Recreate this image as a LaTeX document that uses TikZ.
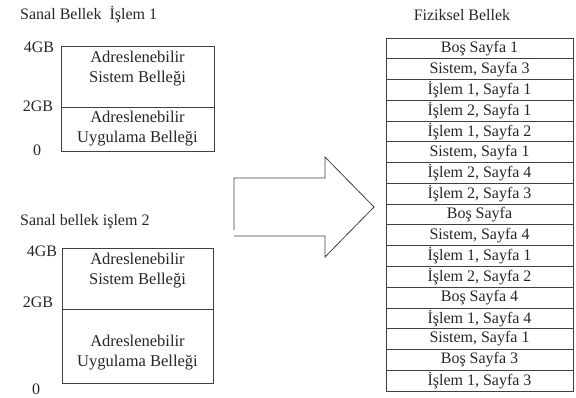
\documentclass[tikz,border=0pt]{standalone}
\usepackage{fontspec}
\setmainfont{Liberation Serif}
\begin{document}
\begin{tikzpicture}[x=1pt,y=-1pt,
  line/.style={draw=black!75, line width=0.8pt},
  lbl/.style={font=\fontsize{16}{19}\selectfont, inner sep=0pt, text=black!85},
  boxtxt/.style={font=\fontsize{16.5}{20}\selectfont, align=center, inner sep=0pt, text=black!85},
  cell/.style={font=\fontsize{16}{18}\selectfont, inner sep=0pt, text=black!85}]
\useasboundingbox (0,0) rectangle (576,398);
% titles
\node[lbl, anchor=west] (t1) at (20,15) {Sanal Bellek\ \ İşlem 1};
\node[lbl, anchor=west] (t2) at (20,222) {Sanal bellek işlem 2};
\node[lbl] (t3) at (462,15) {Fiziksel Bellek};
% box 1
\draw[line] (61,46) rectangle (214,151);
\draw[line] (61,107) -- (214,107);
\node[boxtxt] (b1s) at (137.5,69) {Adreslenebilir\\Sistem Belleği};
\node[boxtxt] (b1u) at (137.5,129) {Adreslenebilir\\Uygulama Belleği};
\node[lbl] (g14) at (39,47) {4GB};
\node[lbl] (g12) at (38,106) {2GB};
\node[lbl] (g10) at (37,150) {0};
% box 2
\draw[line] (62,248) rectangle (213,383);
\draw[line] (62,309) -- (213,309);
\node[boxtxt] (b2s) at (137.5,271) {Adreslenebilir\\Sistem Belleği};
\node[boxtxt] (b2u) at (137.5,353) {Adreslenebilir\\Uygulama Belleği};
\node[lbl] (g24) at (42,251) {4GB};
\node[lbl] (g22) at (38,302) {2GB};
\node[lbl] (g20) at (36,389) {0};
% arrow
\draw[line, line join=miter] (234,230) -- (234,178) -- (325,178) -- (325,157) -- (374,207) -- (325,257) -- (325,236) -- (234,236);
% physical memory table
\def\rh{20.765}
\draw[line] (386,38) rectangle (573,391);
\foreach \t [count=\i from 0] in {Boş Sayfa 1,{Sistem, Sayfa 3},{İşlem 1, Sayfa 1},{İşlem 2, Sayfa 1},{İşlem 1, Sayfa 2},{Sistem, Sayfa 1},{İşlem 2, Sayfa 4},{İşlem 2, Sayfa 3},Boş Sayfa,{Sistem, Sayfa 4},{İşlem 1, Sayfa 1},{İşlem 2, Sayfa 2},Boş Sayfa 4,{İşlem 1, Sayfa 4},{Sistem, Sayfa 1},Boş Sayfa 3,{İşlem 1, Sayfa 3}} {
  \node[cell] (r\i) at (479.5,{38+(\i+0.5)*\rh}) {\t};
  \ifnum\i>0 \draw[line] (386,{38+\i*\rh}) -- (573,{38+\i*\rh}); \fi
}
\end{tikzpicture}
\end{document}
